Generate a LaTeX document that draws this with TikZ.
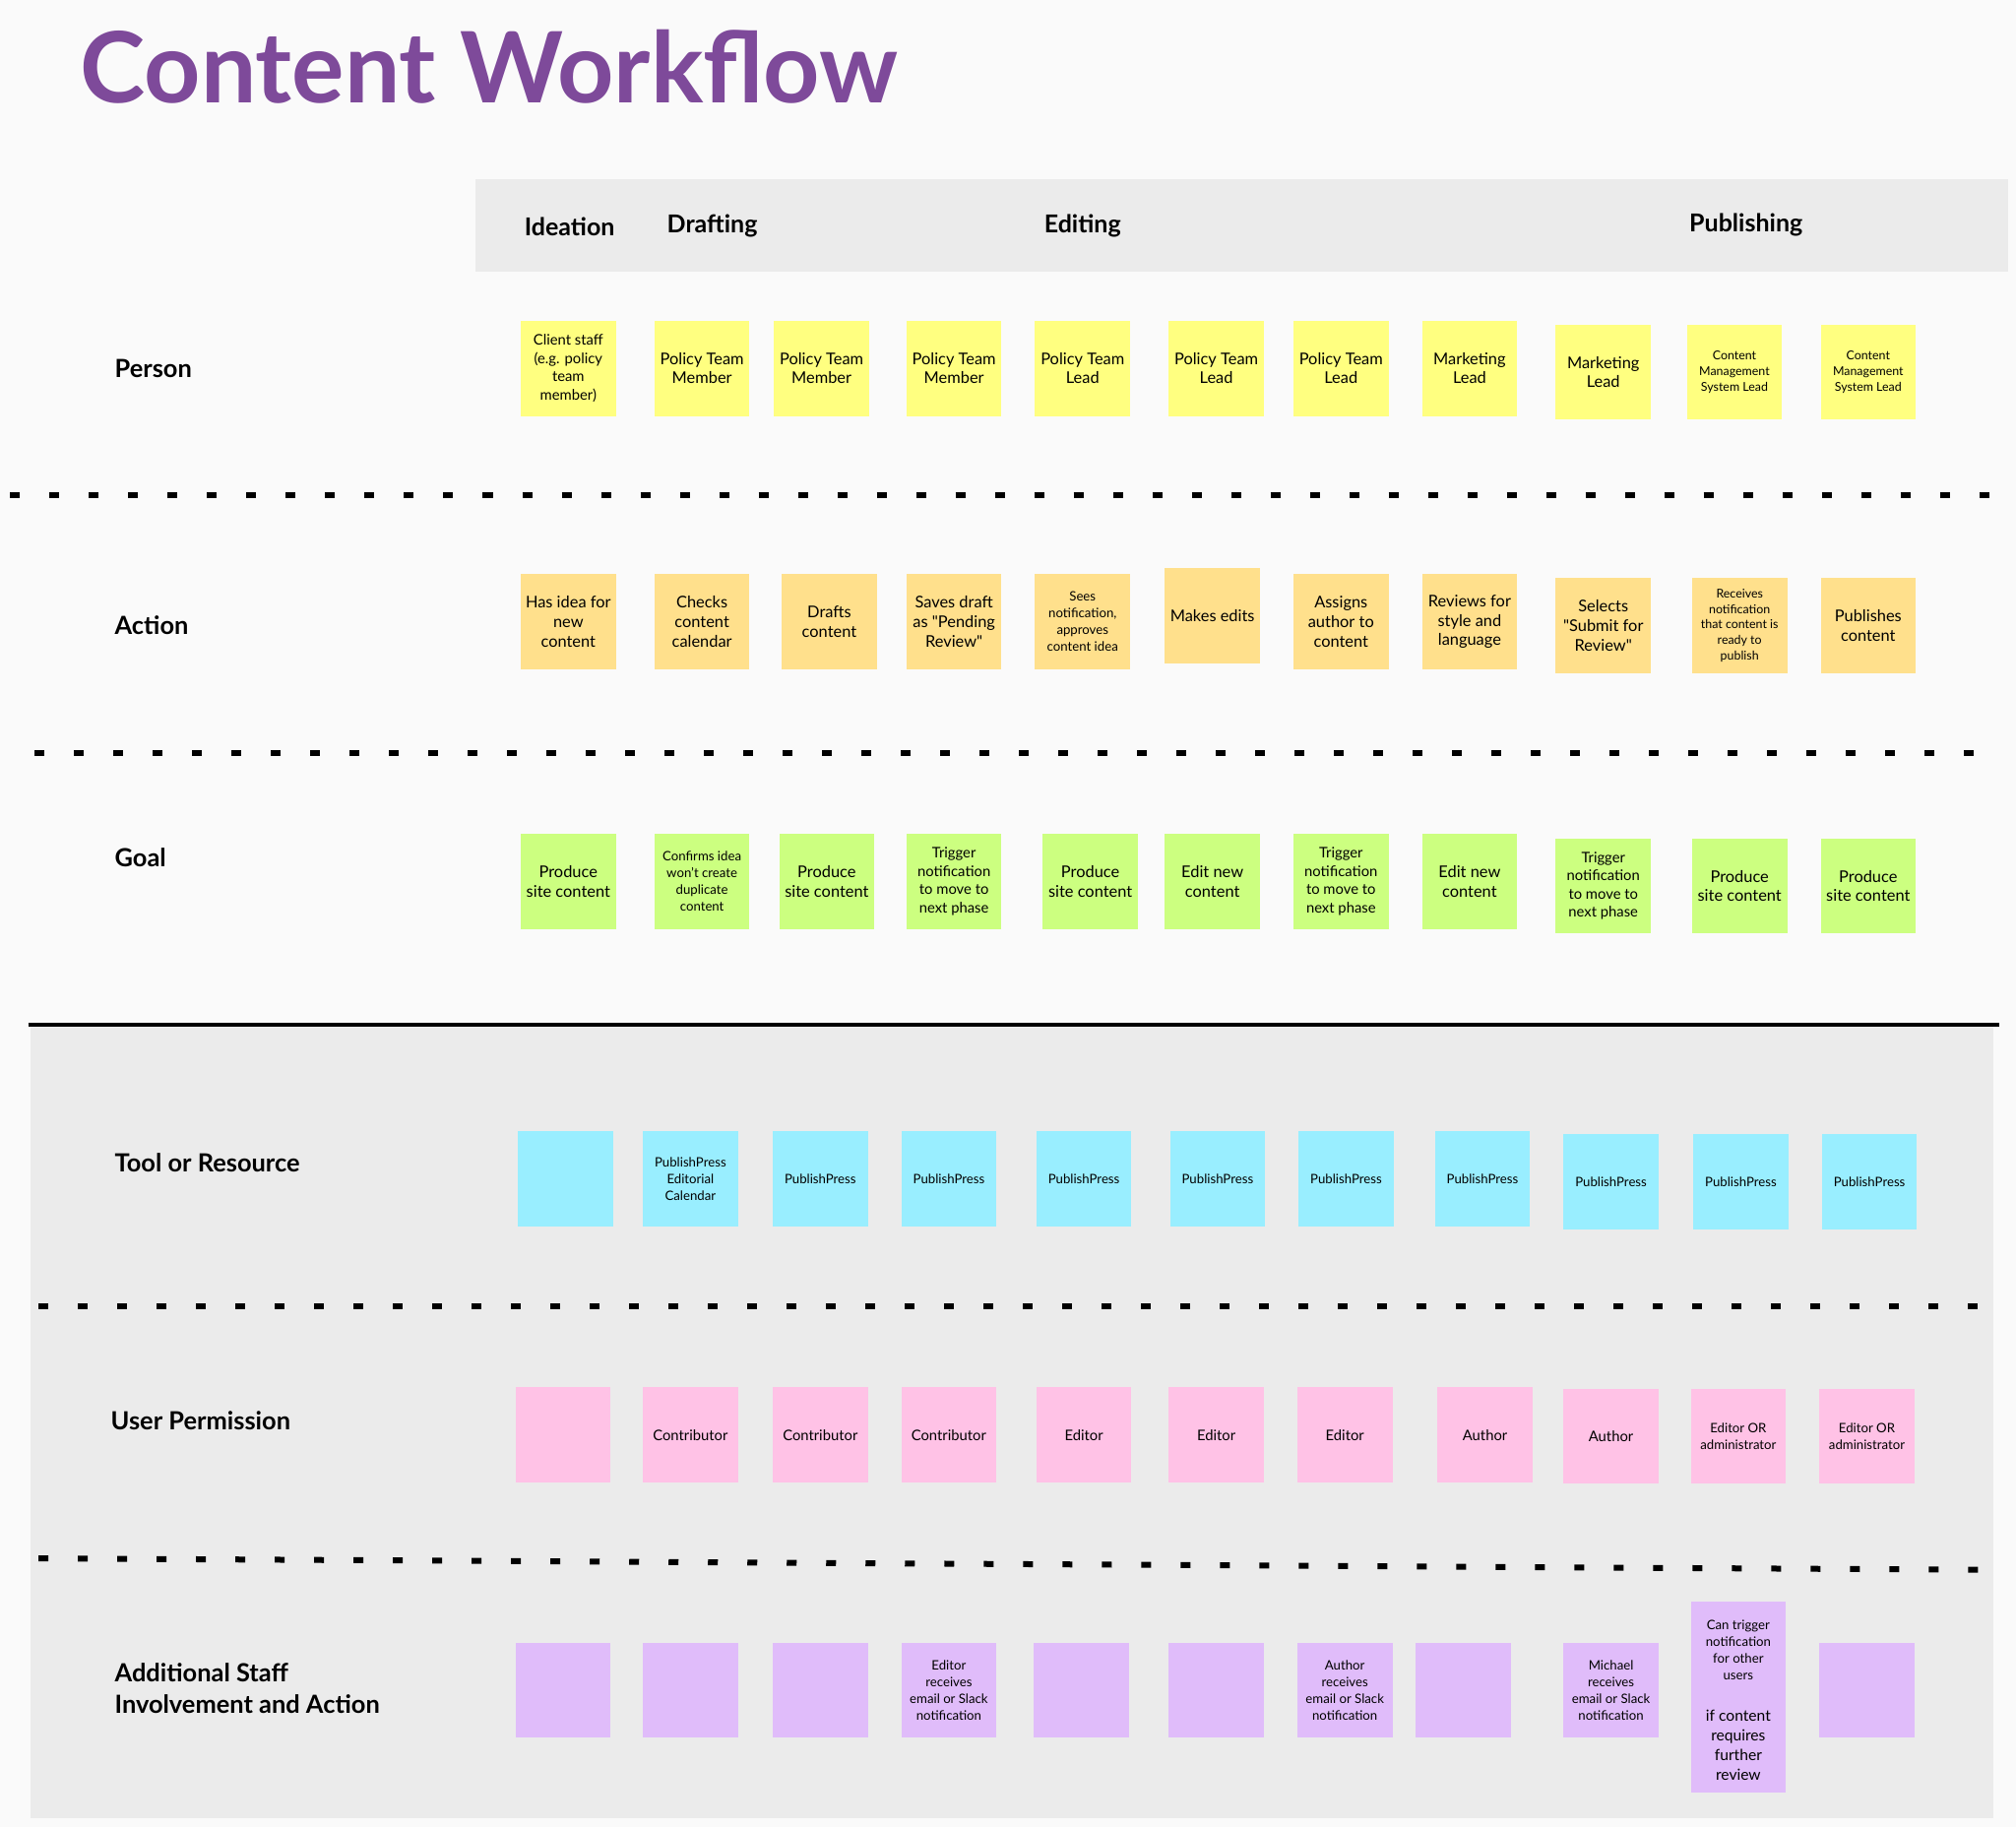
\documentclass[tikz,border=0pt]{standalone}
\usepackage{fontspec}
\setmainfont{Lato}
\usepackage{xcolor}
\usepackage{tikz}
\definecolor{pageback}{HTML}{FAFAFA}
\definecolor{bandgray}{HTML}{EBEBEB}
\definecolor{titlepurple}{RGB}{126,74,154}
\definecolor{noteyellow}{HTML}{FFFF80}
\definecolor{noteorange}{HTML}{FFE08C}
\definecolor{notegreen}{HTML}{CCFF80}
\definecolor{notecyan}{HTML}{99EEFF}
\definecolor{notepink}{HTML}{FFC2E6}
\definecolor{notelilac}{HTML}{E0BCFA}
\newcommand{\notebig}{\fontsize{8.2}{9.8}\selectfont}
\newcommand{\notemid}{\fontsize{7.4}{9.3}\selectfont}
\newcommand{\notesmall}{\fontsize{6.6}{8.5}\selectfont}
\newcommand{\notetiny}{\fontsize{6.2}{7.9}\selectfont}
\newcommand{\sq}{\textquotedbl}

\begin{document}
\begin{tikzpicture}[x=0.653pt, y=-0.653pt,
		note/.style={minimum width=48.3pt, minimum height=48.3pt, inner sep=0pt, align=center, font=\notebig},
		rowlabel/.style={anchor=west, inner sep=0pt, align=left, font=\fontsize{12.7}{15.7}\selectfont\bfseries},
		phaselabel/.style={inner sep=0pt, font=\fontsize{12.5}{15}\selectfont\bfseries},
		lanedots/.style={line width=3pt, dash pattern=on 5pt off 15pt}]
					\useasboundingbox (0,0) rectangle (1568,1421);
					\fill [pageback] (0,0) rectangle (1568,1421);

					\begin{scope}
						\fill [bandgray] (370,139) rectangle (1562,211);
						\fill [bandgray] (24,797) rectangle (1550,1414);
					\end{scope}

					\node [anchor=base west, inner sep=0pt, text=titlepurple, font=\fontsize{50}{60}\selectfont\bfseries] (title) at (62,80) {Content Workflow};

					\begin{scope}[every node/.style={phaselabel}]
						\node (ideation) at (443,176) {Ideation};
						\node (drafting) at (554,176) {Drafting};
						\node (editing) at (842,176) {Editing};
						\node (publishing) at (1358,175) {Publishing};
					\end{scope}

					\begin{scope}[every node/.style={rowlabel}]
						\node (person) at (89,287) {Person};
						\node (action) at (89,486) {Action};
						\node (goal) at (89,667) {Goal};
						\node (tool) at (89,904) {Tool or Resource};
						\node (permission) at (86,1105) {User Permission};
						\node (staff) at (89,1313) {Additional Staff\\Involvement and Action};
					\end{scope}

					\begin{scope}
						\draw [lanedots] (8,385) -- (1568,385);
						\draw [lanedots] (27,586) -- (1556,586);
						\draw [line width=2.3pt] (22,797) -- (1555,797);
						\draw [lanedots] (30,1016) -- (1550,1016);
						\draw [lanedots] (30,1212) -- (1550,1221);
					\end{scope}

					\begin{scope}[every node/.style={note, fill=noteyellow}]
						\node [font=\notemid] (p1) at (442,286.5) {Client staff\\(e.g. policy\\team\\member)};
						\node (p2) at (546,286.5) {Policy Team\\Member};
						\node (p3) at (639,286.5) {Policy Team\\Member};
						\node (p4) at (742,286.5) {Policy Team\\Member};
						\node (p5) at (842,286.5) {Policy Team\\Lead};
						\node (p6) at (946,286.5) {Policy Team\\Lead};
						\node (p7) at (1043,286.5) {Policy Team\\Lead};
						\node (p8) at (1143,286.5) {Marketing\\Lead};
						\node (p9) at (1247,289.5) {Marketing\\Lead};
						\node [font=\notetiny] (p10) at (1349,289.5) {Content\\Management\\System Lead};
						\node [font=\notetiny] (p11) at (1453,289.5) {Content\\Management\\System Lead};
					\end{scope}

					\begin{scope}[every node/.style={note, fill=noteorange}]
						\node (a1) at (442,483.5) {Has idea for\\new\\content};
						\node (a2) at (546,483.5) {Checks\\content\\calendar};
						\node (a3) at (645,483.5) {Drafts\\content};
						\node (a4) at (742,483.5) {Saves draft\\as \sq Pending\\Review\sq};
						\node [font=\notesmall] (a5) at (842,483.5) {Sees\\notification,\\approves\\content idea};
						\node (a6) at (943,479) {Makes edits};
						\node (a7) at (1043,483.5) {Assigns\\author to\\content};
						\node (a8) at (1143,483.5) {Reviews for\\style and\\language};
						\node (a9) at (1247,486.5) {Selects\\\sq Submit for\\Review\sq};
						\node [font=\notetiny] (a10) at (1353,486.5) {Receives\\notification\\that content is\\ready to\\publish};
						\node (a11) at (1453,486.5) {Publishes\\content};
					\end{scope}

					\begin{scope}[every node/.style={note, fill=notegreen}]
						\node (g1) at (442,685.5) {Produce\\site content};
						\node [font=\notesmall] (g2) at (546,685.5) {Confirms idea\\won't create\\duplicate\\content};
						\node (g3) at (643,685.5) {Produce\\site content};
						\node [font=\notemid] (g4) at (742,685.5) {Trigger\\notification\\to move to\\next phase};
						\node (g5) at (848,685.5) {Produce\\site content};
						\node (g6) at (943,685.5) {Edit new\\content};
						\node [font=\notemid] (g7) at (1043,685.5) {Trigger\\notification\\to move to\\next phase};
						\node (g8) at (1143,685.5) {Edit new\\content};
						\node [font=\notemid] (g9) at (1247,689) {Trigger\\notification\\to move to\\next phase};
						\node (g10) at (1353,689) {Produce\\site content};
						\node (g11) at (1453,689) {Produce\\site content};
					\end{scope}

					\begin{scope}[every node/.style={note, fill=notecyan, font=\notesmall}]
						\node (t1) at (440,917) {};
						\node (t2) at (537,917) {PublishPress\\Editorial\\Calendar};
						\node (t3) at (638,917) {PublishPress};
						\node (t4) at (738,917) {PublishPress};
						\node (t5) at (843,917) {PublishPress};
						\node (t6) at (947,917) {PublishPress};
						\node (t7) at (1047,917) {PublishPress};
						\node (t8) at (1153,917) {PublishPress};
						\node (t9) at (1253,919) {PublishPress};
						\node (t10) at (1354,919) {PublishPress};
						\node (t11) at (1454,919) {PublishPress};
					\end{scope}

					\begin{scope}[every node/.style={note, fill=notepink, font=\notemid}]
						\node (u1) at (438,1116) {};
						\node (u2) at (537,1116) {Contributor};
						\node (u3) at (638,1116) {Contributor};
						\node (u4) at (738,1116) {Contributor};
						\node (u5) at (843,1116) {Editor};
						\node (u6) at (946,1116) {Editor};
						\node (u7) at (1046,1116) {Editor};
						\node (u8) at (1155,1116) {Author};
						\node (u9) at (1253,1117) {Author};
						\node [font=\notesmall] (u10) at (1352,1117) {Editor OR\\administrator};
						\node [font=\notesmall] (u11) at (1452,1117) {Editor OR\\administrator};
					\end{scope}

					\begin{scope}[every node/.style={note, fill=notelilac, font=\notesmall}]
						\node (s1) at (438,1314.5) {};
						\node (s2) at (537,1314.5) {};
						\node (s3) at (638,1314.5) {};
						\node (s4) at (738,1314.5) {Editor\\receives\\email or Slack\\notification};
						\node (s5) at (841,1314.5) {};
						\node (s6) at (946,1314.5) {};
						\node (s7) at (1046,1314.5) {Author\\receives\\email or Slack\\notification};
						\node (s8) at (1138,1314.5) {};
						\node (s9) at (1253,1314.5) {Michael\\receives\\email or Slack\\notification};
						\node (s10a) at (1352,1283) {Can trigger\\notification\\for other\\users};
						\node [font=\fontsize{7.8}{10}\selectfont] (s10b) at (1352,1357) {if content\\requires\\further\\review};
						\node (s11) at (1452,1314.5) {};
					\end{scope}
				\end{tikzpicture}
\end{document}
